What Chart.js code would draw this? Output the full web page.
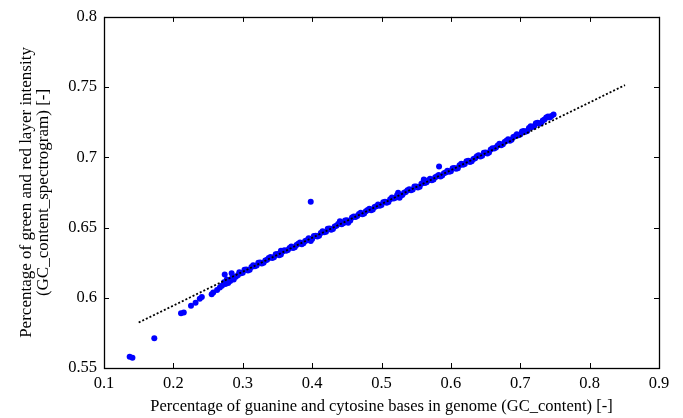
<!DOCTYPE html>
<html>
<head>
<meta charset="utf-8">
<script src="https://cdn.jsdelivr.net/npm/chart.js@4/dist/chart.umd.min.js"></script>
<style>
  html, body { margin: 0; padding: 0; background: #fff; }
  #wrap { width: 683px; height: 418px; }
</style>
</head>
<body>
<div id="wrap"><canvas id="chartCanvas" width="683" height="418"></canvas></div>
<script>
// GC content vs. spectrogram intensity

const gcContent = [
    0.137, 0.141, 0.1725, 0.211, 0.215, 0.2254, 0.232, 0.238, 0.241, 0.2552,
    0.2575, 0.263, 0.267, 0.270, 0.273, 0.274, 0.275, 0.277, 0.279, 0.282,
    0.284, 0.285, 0.287, 0.290, 0.293,
    0.295, 0.300, 0.305, 0.310, 0.315, 0.320, 0.325, 0.330, 0.335, 0.340,
    0.345, 0.350, 0.355, 0.355, 0.360, 0.365, 0.370, 0.375, 0.380, 0.385,
    0.390, 0.395, 0.398, 0.400, 0.405, 0.410, 0.415, 0.420, 0.425, 0.430,
    0.435, 0.440, 0.440, 0.445, 0.450, 0.452, 0.455, 0.460, 0.465, 0.470,
    0.475, 0.480, 0.485, 0.490, 0.495, 0.500, 0.505, 0.510, 0.515, 0.520,
    0.524, 0.525, 0.526, 0.530, 0.535, 0.540, 0.545, 0.550, 0.555, 0.560,
    0.561, 0.565, 0.570, 0.575, 0.580, 0.585, 0.590, 0.595, 0.600, 0.605,
    0.610, 0.615, 0.620, 0.625, 0.630, 0.635, 0.640, 0.645, 0.650, 0.655,
    0.660, 0.665, 0.670, 0.675, 0.680, 0.685, 0.690, 0.695, 0.700, 0.705,
    0.710, 0.715, 0.720, 0.725, 0.730, 0.735, 0.740, 0.745, 0.748,
    // outliers
    0.398, 0.583
];

const gcSpectrogram = [
    0.5580, 0.5573, 0.5711, 0.5889, 0.5895, 0.5944, 0.5965, 0.5993, 0.6005, 0.6026,
    0.6038, 0.6055, 0.6073, 0.6085, 0.6110, 0.6165, 0.6098, 0.6130, 0.6105, 0.6120,
    0.6175, 0.6145, 0.6130, 0.6150, 0.6160,
    0.6182, 0.6178, 0.6201, 0.6200, 0.6232, 0.6230, 0.6252, 0.6249, 0.6271, 0.6291,
    0.6289, 0.6311, 0.6309, 0.6335, 0.6338, 0.6341, 0.6365, 0.6360, 0.6384, 0.6382,
    0.6405, 0.6423, 0.6405, 0.6419, 0.6442, 0.6441, 0.6473, 0.6471, 0.6493, 0.6490,
    0.6512, 0.6532, 0.6545, 0.6530, 0.6552, 0.6535, 0.6550, 0.6579, 0.6582, 0.6606,
    0.6601, 0.6625, 0.6623, 0.6646, 0.6664, 0.6660, 0.6683, 0.6682, 0.6714, 0.6712,
    0.6748, 0.6734, 0.6712, 0.6731, 0.6753, 0.6773, 0.6771, 0.6793, 0.6791, 0.6820,
    0.6842, 0.6823, 0.6847, 0.6842, 0.6866, 0.6864, 0.6887, 0.6905, 0.6901, 0.6924,
    0.6923, 0.6955, 0.6953, 0.6975, 0.6972, 0.6994, 0.7014, 0.7012, 0.7034, 0.7034,
    0.7065, 0.7070, 0.7096, 0.7093, 0.7119, 0.7119, 0.7144, 0.7164, 0.7162, 0.7187,
    0.7188, 0.7222, 0.7222, 0.7246, 0.7245, 0.7269, 0.7291, 0.7294, 0.7305,
    // outliers
    0.6683, 0.6935
];

// second row of the dense band (between the points above)
const gcContentB = [
    0.2975, 0.3025, 0.3075, 0.3125, 0.3175, 0.3225, 0.3275, 0.3325, 0.3375, 0.3425,
    0.3475, 0.3525, 0.3575, 0.3625, 0.3675, 0.3725, 0.3775, 0.3825, 0.3875, 0.3925,
    0.3975, 0.4025, 0.4075, 0.4125, 0.4175, 0.4225, 0.4275, 0.4325, 0.4375, 0.4425,
    0.4475, 0.4525, 0.4575, 0.4625, 0.4675, 0.4725, 0.4775, 0.4825, 0.4875, 0.4925,
    0.4975, 0.5025, 0.5075, 0.5125, 0.5175, 0.5225, 0.5275, 0.5325, 0.5375, 0.5425,
    0.5475, 0.5525, 0.5575, 0.5625, 0.5675, 0.5725, 0.5775, 0.5825, 0.5875, 0.5925,
    0.5975, 0.6025, 0.6075, 0.6125, 0.6175, 0.6225, 0.6275, 0.6325, 0.6375, 0.6425,
    0.6475, 0.6525, 0.6575, 0.6625, 0.6675, 0.6725, 0.6775, 0.6825, 0.6875, 0.6925,
    0.6975, 0.7025, 0.7075, 0.7125, 0.7175, 0.7225, 0.7275, 0.7325, 0.7375, 0.7425
];

const gcSpectrogramB = [
    0.6174, 0.6199, 0.6195, 0.6220, 0.6225, 0.6250, 0.6244, 0.6266, 0.6284, 0.6283,
    0.6310, 0.6303, 0.6330, 0.6335, 0.6355, 0.6354, 0.6376, 0.6393, 0.6388, 0.6410,
    0.6415, 0.6440, 0.6436, 0.6461, 0.6466, 0.6491, 0.6485, 0.6507, 0.6525, 0.6524,
    0.6551, 0.6544, 0.6571, 0.6576, 0.6596, 0.6595, 0.6617, 0.6634, 0.6629, 0.6651,
    0.6656, 0.6681, 0.6677, 0.6702, 0.6707, 0.6732, 0.6726, 0.6748, 0.6766, 0.6765,
    0.6792, 0.6785, 0.6812, 0.6817, 0.6837, 0.6836, 0.6858, 0.6875, 0.6870, 0.6892,
    0.6897, 0.6922, 0.6918, 0.6943, 0.6948, 0.6973, 0.6967, 0.6989, 0.7007, 0.7006,
    0.7033, 0.7027, 0.7056, 0.7063, 0.7085, 0.7086, 0.7110, 0.7129, 0.7126, 0.7150,
    0.7157, 0.7184, 0.7182, 0.7209, 0.7216, 0.7243, 0.7239, 0.7263, 0.7283, 0.7284
];

// dotted linear fit
const trendX = [0.150, 0.851];
const trendY = [0.5824, 0.7514];

const xTicks = [0.1, 0.2, 0.3, 0.4, 0.5, 0.6, 0.7, 0.8, 0.9];
const yTicks = [0.55, 0.6, 0.65, 0.7, 0.75, 0.8];

const xTitle = "Percentage of guanine and cytosine bases in genome (GC_content) [-]";
const yTitle = ["Percentage of green and red layer intensity", "(GC_content_spectrogram) [-]"];

// ------------------------------------------------------------

const serif = "'Liberation Serif', 'Times New Roman', serif";

const points = gcContent.map((x, i) => ({ x: x, y: gcSpectrogram[i] }))
    .concat(gcContentB.map((x, i) => ({ x: x, y: gcSpectrogramB[i] })));
const trend = trendX.map((x, i) => ({ x: x, y: trendY[i] }));

// box around the plot + inward ticks on all four sides
const frameTicks = {
    id: "frameTicks",
    afterDatasetsDraw(chart) {
        const ctx = chart.ctx;
        const a = chart.chartArea;
        const xs = chart.scales.x;
        const ys = chart.scales.y;
        const len = 5;
        ctx.save();
        ctx.strokeStyle = "#000";
        ctx.lineWidth = 1;
        ctx.beginPath();
        xTicks.forEach(v => {
            const px = Math.round(xs.getPixelForValue(v)) + 0.5;
            ctx.moveTo(px, a.bottom); ctx.lineTo(px, a.bottom - len);
            ctx.moveTo(px, a.top); ctx.lineTo(px, a.top + len);
        });
        yTicks.forEach(v => {
            const py = Math.round(ys.getPixelForValue(v)) + 0.5;
            ctx.moveTo(a.left, py); ctx.lineTo(a.left + len, py);
            ctx.moveTo(a.right, py); ctx.lineTo(a.right - len, py);
        });
        ctx.stroke();
        ctx.lineWidth = 1.3;
        ctx.strokeRect(Math.round(a.left) + 0.5, Math.round(a.top) + 0.5,
            Math.round(a.right - a.left), Math.round(a.bottom - a.top));
        ctx.restore();
    }
};

new Chart(document.getElementById("chartCanvas").getContext("2d"), {
    type: "scatter",
    data: {
        datasets: [
            {
                label: "fit",
                type: "line",
                data: trend,
                borderColor: "#000",
                borderWidth: 1.8,
                borderDash: [2, 2],
                pointRadius: 0,
                fill: false
            },
            {
                label: "GC_content",
                data: points,
                pointRadius: 3,
                pointBorderWidth: 0,
                backgroundColor: "#0000ff",
                borderColor: "#0000ff"
            }
        ]
    },
    options: {
        responsive: false,
        animation: false,
        layout: { padding: { top: 13, right: 24, left: 0, bottom: 0 } },
        plugins: { legend: { display: false }, tooltip: { enabled: false } },
        scales: {
            x: {
                type: "linear",
                min: 0.1,
                max: 0.9,
                afterBuildTicks: s => { s.ticks = xTicks.map(v => ({ value: v })); },
                afterFit: s => { s.height = 50; },
                grid: { display: false, drawTicks: false },
                border: { display: false },
                ticks: {
                    color: "#000",
                    padding: 6,
                    maxRotation: 0,
                    font: { family: serif, size: 16.5 },
                    callback: v => String(v)
                },
                title: {
                    display: true,
                    text: xTitle,
                    color: "#000",
                    font: { family: serif, size: 16.5 },
                    padding: { top: 0, bottom: 1 }
                }
            },
            y: {
                type: "linear",
                min: 0.55,
                max: 0.8,
                afterBuildTicks: s => { s.ticks = yTicks.map(v => ({ value: v })); },
                afterFit: s => { s.width = 104; },
                grid: { display: false, drawTicks: false },
                border: { display: false },
                ticks: {
                    color: "#000",
                    padding: 7,
                    font: { family: serif, size: 16.5 },
                    callback: v => String(v)
                },
                title: {
                    display: true,
                    text: yTitle,
                    color: "#000",
                    font: { family: serif, size: 17, lineHeight: 1 },
                    padding: { top: 18, bottom: 0 }
                }
            }
        }
    },
    plugins: [frameTicks]
});
</script>
</body>
</html>
